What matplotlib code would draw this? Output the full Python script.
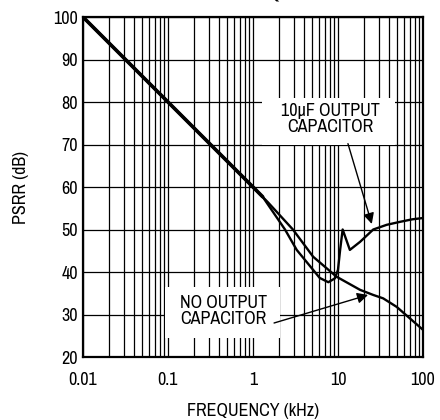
import matplotlib
matplotlib.use('Agg')
import matplotlib.pyplot as plt
from matplotlib import font_manager
from matplotlib.patches import Rectangle
from matplotlib.ticker import FixedLocator, NullFormatter

# PSRR vs frequency
freq_nocap = [0.01, 0.1, 1.0, 1.5, 2.95, 5.1, 9.6, 18.2, 26, 34, 49, 70, 100]
psrr_nocap = [100, 80, 60, 56.4, 50, 43.6, 38.9, 35.8, 34.6, 33.8, 31.8, 29.1, 26.4]

freq_cap = [0.01, 0.1, 1.0, 1.3, 2.38, 3.27, 5.1, 6.1, 7.7, 9.2, 10, 10.6,
            11.35, 13.8, 18.2, 26, 37.4, 53.6, 75, 100]
psrr_cap = [100, 80, 60, 57.7, 50, 45.2, 40.5, 38.6, 37.6, 38.5, 40.5, 45.2,
            50, 45.2, 47.1, 50, 51.1, 51.8, 52.4, 52.7]

# part where both curves lie on top of each other
freq_common = [0.01, 0.1, 1.0, 1.3]
psrr_common = [100, 80, 60, 57.7]

xticks = [0.01, 0.1, 1, 10, 100]
xticklabels = ['0.01', '0.1', '1', '10', '100']
yticks = [20, 30, 40, 50, 60, 70, 80, 90, 100]

# look for a narrow / condensed sans face, the original uses one
family, stretch, fs = 'Liberation Sans', 'normal', 11.5
for f in font_manager.fontManager.ttflist:
    if 'Narrow' in f.name or 'Condensed' in f.name:
        if f.style == 'normal' and f.weight in (400, 'normal', 'regular'):
            family, stretch, fs = f.name, f.stretch, 13
            break
else:
    for f in font_manager.fontManager.ttflist:
        if f.stretch in ('condensed', 'semi-condensed') and f.style == 'normal' \
                and 'Sans' in f.name and 'Mono' not in f.name:
            family, stretch, fs = f.name, f.stretch, 12.5
            break
plt.rcParams['font.family'] = [family, 'DejaVu Sans']
plt.rcParams['font.stretch'] = stretch

fig = plt.figure(figsize=(4.4, 4.2), dpi=100)
ax = fig.add_axes([0.1886, 0.15, 0.7727, 0.8095])

ax.set_xscale('log')
ax.set_xlim(0.01, 100)
ax.set_ylim(20, 100)

# grid
minors = [m * 10.0 ** e for e in range(-2, 2) for m in range(2, 10)]
ax.xaxis.set_major_locator(FixedLocator(xticks))
ax.xaxis.set_minor_locator(FixedLocator(minors))
ax.xaxis.set_minor_formatter(NullFormatter())
ax.set_xticklabels(xticklabels)
ax.set_yticks(yticks)
ax.grid(True, which='major', color='black', lw=0.9)
ax.grid(True, which='minor', axis='x', color='black', lw=0.9)
ax.tick_params(which='both', length=0, labelsize=fs)
ax.tick_params(axis='x', pad=11)
ax.tick_params(axis='y', pad=3.5)
for s in ax.spines.values():
    s.set_linewidth(1.6)

# white patches under the labels
ax.add_patch(Rectangle((1.28, 69.8), 46.9 - 1.28, 81.0 - 69.8, fc='white', ec='none', zorder=2.5))
ax.add_patch(Rectangle((0.092, 24.5), 2.08 - 0.092, 36.5 - 24.5, fc='white', ec='none', zorder=2.5))

ax.plot(freq_common, psrr_common, color='black', lw=2.6, solid_capstyle='round', zorder=3)
ax.plot(freq_nocap, psrr_nocap, color='black', lw=1.7, zorder=3)
ax.plot(freq_cap, psrr_cap, color='black', lw=1.7, zorder=3)

ax.text(8.05, 76.1, '10\u00b5F OUTPUT\nCAPACITOR', ha='center', va='center',
        fontsize=fs, linespacing=1.0, zorder=4)
ax.text(0.45, 30.9, 'NO OUTPUT\nCAPACITOR', ha='center', va='center',
        fontsize=fs, linespacing=1.0, zorder=4)

ax.annotate('', xy=(25, 51.3), xytext=(13.1, 70.2),
            arrowprops=dict(arrowstyle='-|>', color='black', lw=1.0,
                            mutation_scale=16, shrinkA=0, shrinkB=0), zorder=4)
ax.annotate('', xy=(22.6, 34.6), xytext=(1.77, 28.0),
            arrowprops=dict(arrowstyle='-|>', color='black', lw=1.0,
                            mutation_scale=16, shrinkA=0, shrinkB=0), zorder=4)

ax.set_xlabel('FREQUENCY (kHz)', fontsize=fs, va='center')
ax.xaxis.set_label_coords(0.5, -0.16)
ax.set_ylabel('PSRR (dB)', fontsize=fs, va='center')
ax.yaxis.set_label_coords(-0.182, 0.5)

# title is cut off by the top of the image, as in the original
fig.text(0.62, 0.993, 'vs. FREQUENCY', ha='center', va='bottom',
         fontsize=17, fontweight='bold')

fig.savefig('out.png', dpi=100)
